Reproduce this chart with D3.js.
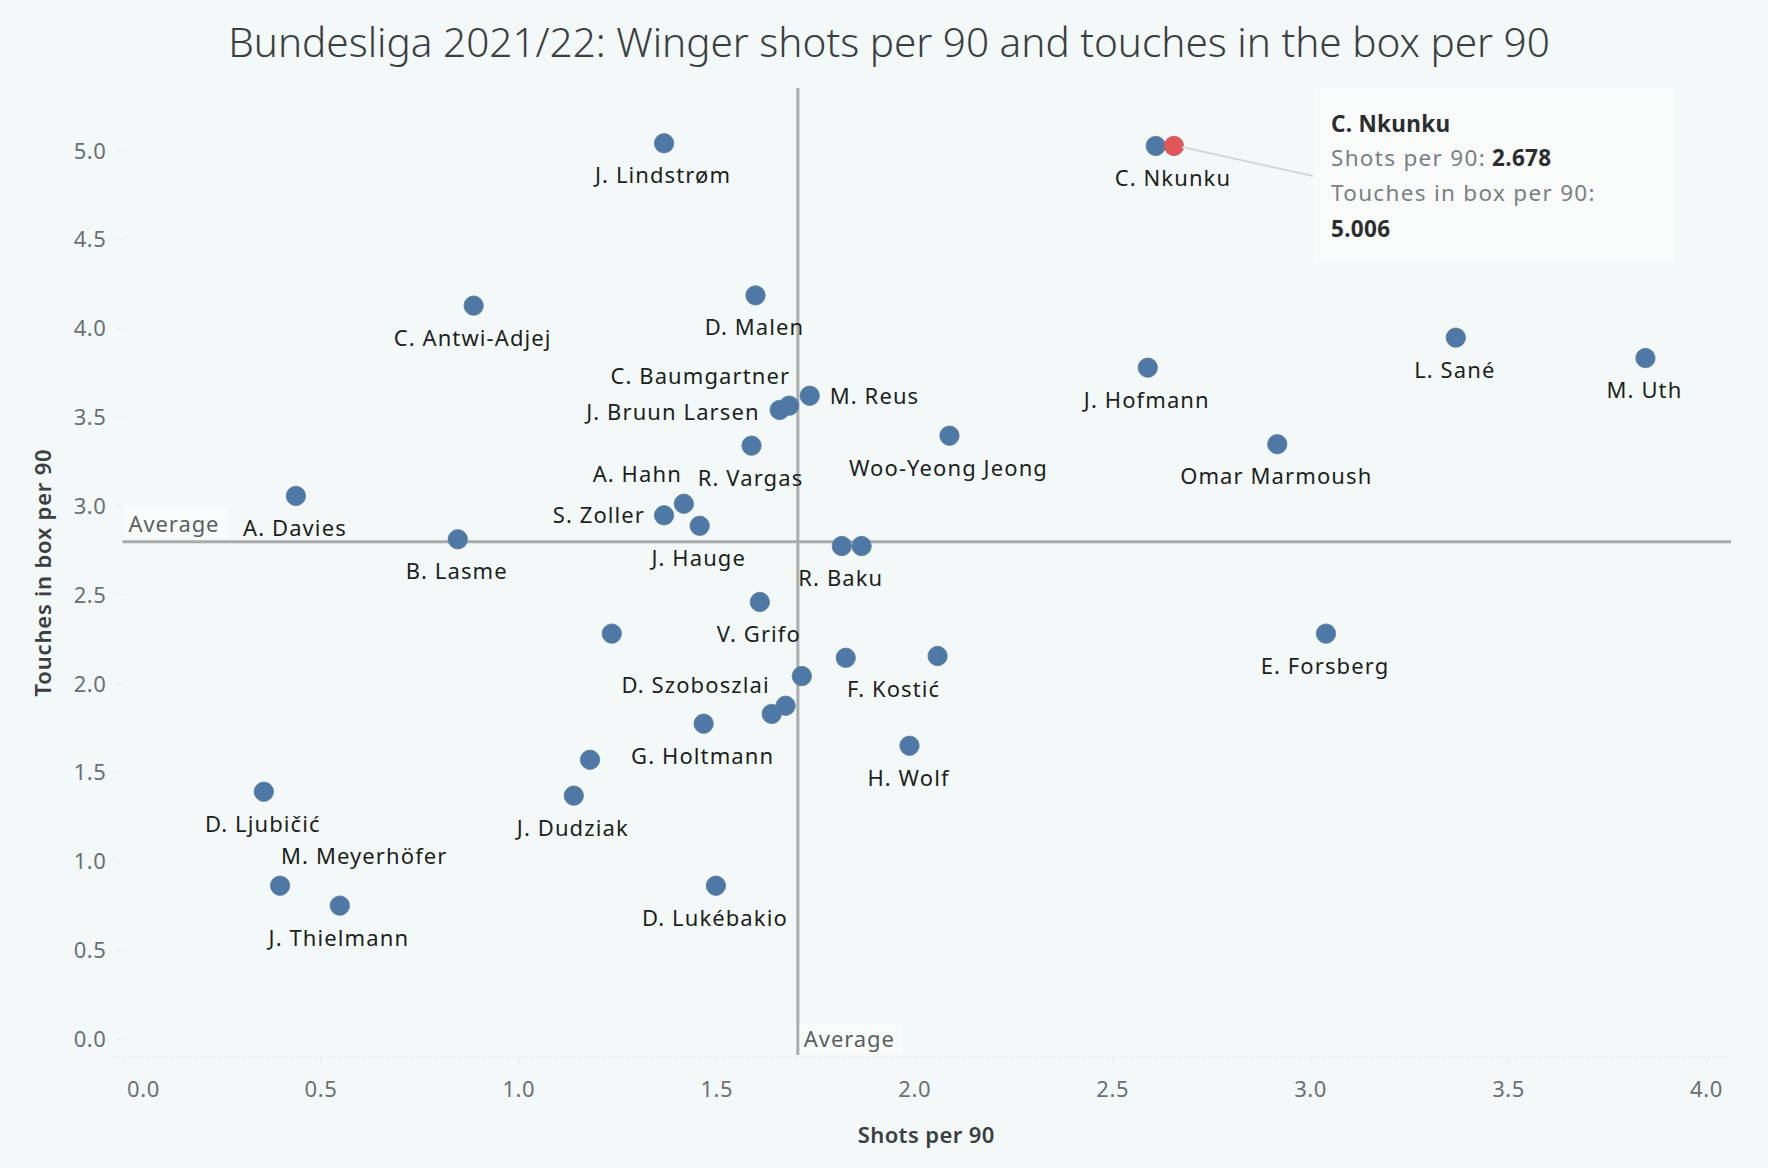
<!DOCTYPE html>
<html>
<head>
<meta charset="utf-8">
<script src="https://cdn.jsdelivr.net/npm/d3@7"></script>
<style>
  html, body { margin: 0; padding: 0; background: #f2f9f8; }
  svg { display: block; }
</style>
</head>
<body>
<script>
// ---------------- DATA ----------------
const players = [
  "J. Lindstrøm", "", "C. Nkunku", "C. Antwi-Adjej", "D. Malen", "L. Sané", "M. Uth",
  "J. Hofmann", "M. Reus", "C. Baumgartner", "J. Bruun Larsen", "Woo-Yeong Jeong",
  "Omar Marmoush", "R. Vargas", "A. Davies", "A. Hahn", "S. Zoller", "J. Hauge",
  "B. Lasme", "R. Baku", "", "V. Grifo", "", "E. Forsberg", "", "F. Kostić", "",
  "D. Szoboszlai", "", "G. Holtmann", "H. Wolf", "", "J. Dudziak", "D. Lukébakio",
  "D. Ljubičić", "M. Meyerhöfer", "J. Thielmann"
];
const shotsPer90 = [
  1.368, 2.610, 2.656, 0.887, 1.599, 3.368, 3.847,
  2.590, 1.736, 1.684, 1.660, 2.089,
  2.917, 1.589, 0.438, 1.418, 1.368, 1.458,
  0.847, 1.817, 1.867, 1.610, 1.236, 3.040, 1.827, 2.059, 1.716,
  1.640, 1.675, 1.468, 1.988, 1.181, 1.140, 1.499,
  0.357, 0.398, 0.549
];
const touchesPer90 = [
  5.039, 5.024, 5.024, 4.125, 4.183, 3.945, 3.830,
  3.776, 3.618, 3.562, 3.538, 3.393,
  3.345, 3.337, 3.054, 3.010, 2.945, 2.886,
  2.810, 2.772, 2.772, 2.457, 2.279, 2.279, 2.143, 2.153, 2.040,
  1.827, 1.873, 1.772, 1.648, 1.569, 1.367, 0.860,
  1.389, 0.860, 0.748
];
const avgShots = 1.706;
const avgTouches = 2.796;
const xTicks = [0, 0.5, 1, 1.5, 2, 2.5, 3, 3.5, 4];
const yTicks = [0, 0.5, 1, 1.5, 2, 2.5, 3, 3.5, 4, 4.5, 5];
const highlighted = "C. Nkunku";
const tooltipLines = [
  [{t: "C. Nkunku", b: true}],
  [{t: "Shots per 90:", b: false}, {t: " 2.678", b: true}],
  [{t: "Touches in box per 90:", b: false}],
  [{t: "5.006", b: true}]
];
const titleText = "Bundesliga 2021/22: Winger shots per 90 and touches in the box per 90";

// -------------- LAYOUT (label placement) --------------
const labelPlacement = {
  "M. Reus":        {a: "start",  dx: 20,  dy: 8},
  "C. Baumgartner": {a: "end",    dx: 1,   dy: -22},
  "J. Bruun Larsen":{a: "end",    dx: -20, dy: 10},
  "A. Hahn":        {a: "end",    dx: -2,  dy: -22},
  "S. Zoller":      {a: "end",    dx: -19, dy: 8},
  "F. Kostić":      {a: "middle", dx: -44, dy: 41},
  "D. Szoboszlai":  {a: "end",    dx: -2,  dy: -21},
  "M. Meyerhöfer":  {a: "start",  dx: 1,   dy: -22}
};
const defaultPlacement = {a: "middle", dx: -1, dy: 40};

// -------------- DRAW --------------
const W = 1768, H = 1168;
const plot = {left: 122.5, right: 1730, top: 88, bottom: 1057};
const FONT = "'Noto Sans', 'Open Sans', sans-serif";

const svg = d3.select("body").append("svg")
  .attr("width", W).attr("height", H)
  .style("font-family", FONT);

svg.append("rect").attr("width", W).attr("height", H).attr("fill", "#f2f9f8");

const x = d3.scaleLinear().domain([0, 4]).range([122.5, 1706]);
const y = d3.scaleLinear().domain([0, 5]).range([1038.5, 150.2]);

// Title
svg.append("text")
  .attr("x", 889).attr("y", 57)
  .attr("text-anchor", "middle")
  .attr("font-size", 40.5)
  .attr("font-weight", 300)
  .attr("fill", "#3b3f42")
  .text(titleText);

// X axis (dotted baseline + ticks)
const xAxis = d3.axisBottom(x).tickValues(xTicks).tickFormat(d3.format(".1f")).tickSize(8).tickSizeOuter(0);
const gx = svg.append("g").attr("transform", `translate(0,${plot.bottom})`).call(xAxis);
gx.select(".domain").remove();
gx.append("line").attr("x1", 113).attr("x2", plot.right).attr("y1", 0).attr("y2", 0)
  .attr("stroke", "#d6dcdc").attr("stroke-dasharray", "1,2");
gx.selectAll(".tick line").attr("stroke", "#d6dcdc").attr("stroke-dasharray", "1,2");
gx.selectAll(".tick text")
  .attr("y", 39.5).attr("dy", 0)
  .attr("font-size", 22).attr("fill", "#6b7073")
  .attr("font-family", FONT)
  .style("letter-spacing", "0.6px");
gx.selectAll(".tick").filter(d => d === 0).select("text")
  .attr("text-anchor", "start").attr("x", 4);

// Y axis
const yAxis = d3.axisLeft(y).tickValues(yTicks).tickFormat(d3.format(".1f")).tickSize(9).tickSizeOuter(0);
const gy = svg.append("g").attr("transform", `translate(${plot.left},0)`).call(yAxis);
gy.select(".domain").remove();
gy.selectAll(".tick line").attr("stroke", "#d6dcdc").attr("stroke-dasharray", "1,2");
gy.selectAll(".tick text")
  .attr("x", -16).attr("dy", "0.36em")
  .attr("font-size", 22).attr("fill", "#6b7073")
  .attr("font-family", FONT)
  .style("letter-spacing", "0.6px");

// Axis titles
svg.append("text")
  .attr("x", (plot.left + plot.right) / 2).attr("y", 1143)
  .attr("text-anchor", "middle")
  .attr("font-size", 22).attr("font-weight", 600).attr("fill", "#3b3f42")
  .style("letter-spacing", "0.4px")
  .text("Shots per 90");
svg.append("text")
  .attr("transform", `translate(51,${(plot.top + plot.bottom) / 2}) rotate(-90)`)
  .attr("text-anchor", "middle")
  .attr("font-size", 22).attr("font-weight", 600).attr("fill", "#3b3f42")
  .style("letter-spacing", "0.8px")
  .text("Touches in box per 90");

// Reference lines
svg.append("line")
  .attr("x1", plot.left).attr("x2", plot.right + 1)
  .attr("y1", y(avgTouches)).attr("y2", y(avgTouches))
  .attr("stroke", "#a9acac").attr("stroke-width", 3);
svg.append("line")
  .attr("x1", x(avgShots)).attr("x2", x(avgShots))
  .attr("y1", plot.top).attr("y2", plot.bottom - 2)
  .attr("stroke", "#a9acac").attr("stroke-width", 3);

// Reference line labels
function refLabel(px, py, w, h, tx, ty) {
  svg.append("rect").attr("x", px).attr("y", py).attr("width", w).attr("height", h).attr("fill", "#f9fbfb");
  svg.append("text").attr("x", tx).attr("y", ty)
    .attr("font-size", 22).attr("fill", "#5b5f62")
    .style("letter-spacing", "0.9px")
    .text("Average");
}
refLabel(plot.left + 1.5, y(avgTouches) - 36, 104, 32, plot.left + 6, y(avgTouches) - 10);
refLabel(x(avgShots) + 2, plot.bottom - 33, 102, 30, x(avgShots) + 6, plot.bottom - 10);

// Points
const data = players.map((n, i) => ({name: n, sx: shotsPer90[i], ty: touchesPer90[i]}));
const ordered = data.filter(d => d.name !== highlighted).concat(data.filter(d => d.name === highlighted));

svg.append("g").selectAll("circle").data(ordered).join("circle")
  .attr("cx", d => x(d.sx)).attr("cy", d => y(d.ty)).attr("r", 9.7)
  .attr("fill", d => d.name === highlighted ? "#e15759" : "#4e79a7")
  .attr("stroke", d => d.name === highlighted ? "#c9595b" : "#5f7a96")
  .attr("stroke-width", 0.8);

// Labels
svg.append("g").selectAll("text").data(data.filter(d => d.name !== "")).join("text")
  .attr("x", d => x(d.sx) + (labelPlacement[d.name] || defaultPlacement).dx)
  .attr("y", d => y(d.ty) + (labelPlacement[d.name] || defaultPlacement).dy)
  .attr("text-anchor", d => (labelPlacement[d.name] || defaultPlacement).a)
  .attr("font-size", 22).attr("fill", "#1d1f20")
  .style("letter-spacing", "1.1px")
  .text(d => d.name);

// Tooltip
const hp = data.find(d => d.name === highlighted);
const tip = {x: 1313, y: 88, w: 360, h: 175};
svg.append("line")
  .attr("x1", x(hp.sx) + 8).attr("y1", y(hp.ty) + 1)
  .attr("x2", tip.x).attr("y2", 176)
  .attr("stroke", "#d3d7d7").attr("stroke-width", 2);
svg.append("rect").attr("x", tip.x).attr("y", tip.y).attr("width", tip.w).attr("height", tip.h)
  .attr("fill", "#f9fbfb");
const tipBase = [132, 166, 201, 237];
tooltipLines.forEach((parts, i) => {
  const t = svg.append("text").attr("x", 1331).attr("y", tipBase[i]).attr("font-size", 22.5);
  parts.forEach(p => {
    t.append("tspan")
      .attr("font-weight", p.b ? 700 : 400)
      .attr("fill", p.b ? "#2b2d2f" : "#7a7f83")
      .style("letter-spacing", p.b ? "0.3px" : "1.3px")
      .text(p.t);
  });
});
</script>
</body>
</html>
